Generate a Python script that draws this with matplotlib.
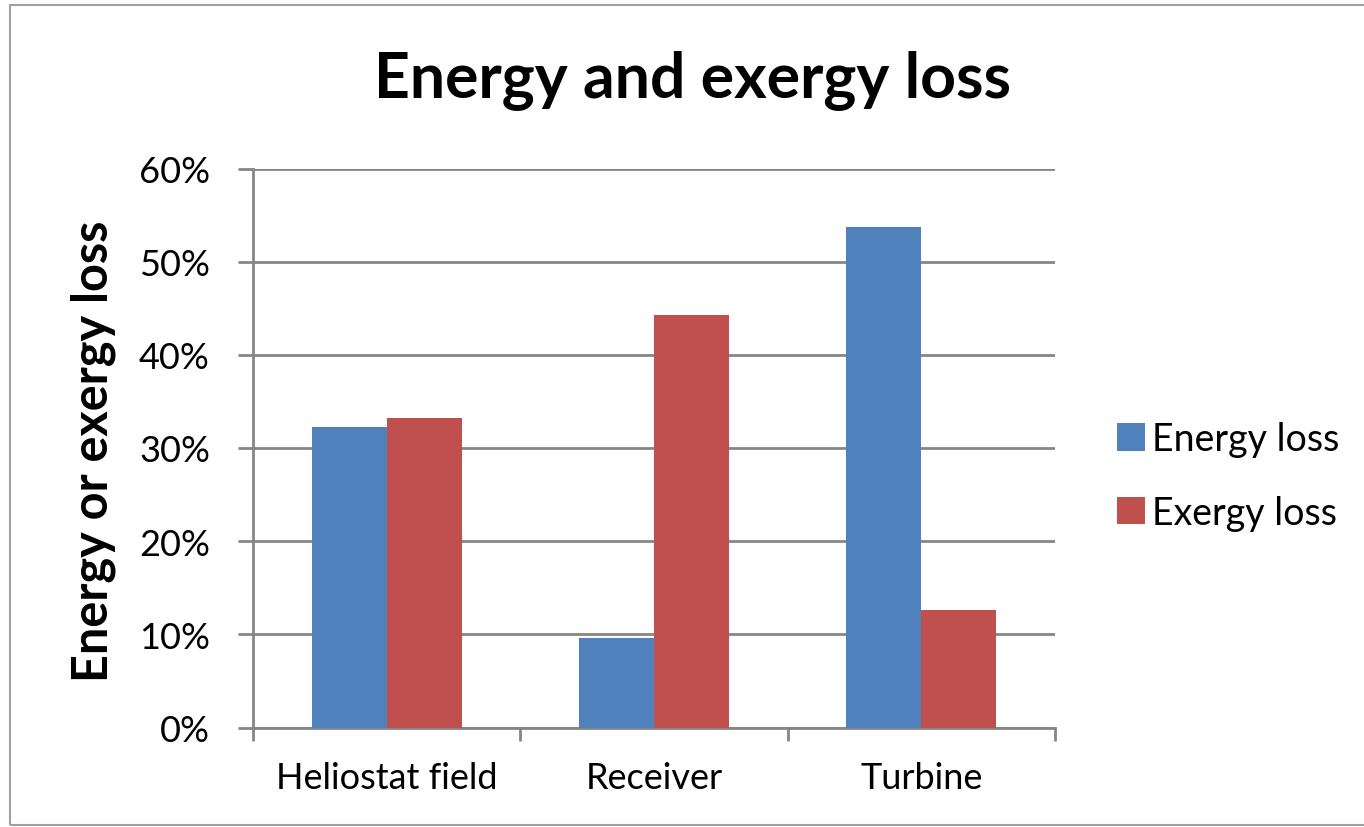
import matplotlib
matplotlib.use("Agg")
import matplotlib.pyplot as plt
from matplotlib.patches import Rectangle
import numpy as np

# data
categories = ["Heliostat field", "Receiver", "Turbine"]
energy_loss = [32.3, 9.6, 53.7]
exergy_loss = [33.2, 44.3, 12.6]
series_names = ["Energy loss", "Exergy loss"]
y_ticks = [0, 10, 20, 30, 40, 50, 60]

blue = "#4F81BD"
red = "#C0504D"
grid_gray = "#868686"

plt.rcParams["font.family"] = ["Lato", "DejaVu Sans"]

fig = plt.figure(figsize=(13.64, 8.28), dpi=100)
ax = fig.add_axes([253 / 1364, 1 - 728.5 / 828, (1055 - 253) / 1364, (728.5 - 169.5) / 828])

x = np.arange(len(categories))
w = 0.28
ax.bar(x - w / 2, energy_loss, w, color=blue, label=series_names[0], zorder=3)
ax.bar(x + w / 2, exergy_loss, w, color=red, label=series_names[1], zorder=3)

ax.set_xlim(-0.5, 2.5)
ax.set_ylim(0, 60)
ax.set_yticks(y_ticks)
ax.set_yticklabels([f"{t}%" for t in y_ticks], fontsize=26)
ax.set_xticks([-0.5, 0.5, 1.5, 2.5])
ax.set_xticklabels([])
ax.set_xticks(x, minor=True)
ax.set_xticklabels(categories, minor=True, fontsize=26)
ax.tick_params(axis="x", which="minor", length=0, pad=24)
ax.tick_params(axis="x", which="major", length=9, width=2, color=grid_gray)
ax.tick_params(axis="y", length=11, width=2, color=grid_gray, pad=20)

ax.grid(axis="y", color=grid_gray, linewidth=2, zorder=0)
for s in ["top", "right"]:
    ax.spines[s].set_visible(False)
for s in ["left", "bottom"]:
    ax.spines[s].set_color(grid_gray)
    ax.spines[s].set_linewidth(2)

fig.text(0.508, 0.903, "Energy and exergy loss", ha="center", va="center",
         fontsize=45, fontweight="bold")
fig.text(93 / 1364, 0.455, "Energy or exergy loss", ha="center", va="center",
         rotation=90, fontsize=35, fontweight="bold")

fig.legend(loc="center left", bbox_to_anchor=(1083 / 1364, 1 - 477 / 828),
           frameon=False, fontsize=27, handlelength=0.75, handleheight=0.75,
           handletextpad=0.2, labelspacing=1.0)

# outer chart border
fig.patches.append(Rectangle((10, 2), 1400, 820, transform=None, fill=False,
                             edgecolor="#a0a0a0", linewidth=1.5))

fig.savefig("out.png", dpi=100)
